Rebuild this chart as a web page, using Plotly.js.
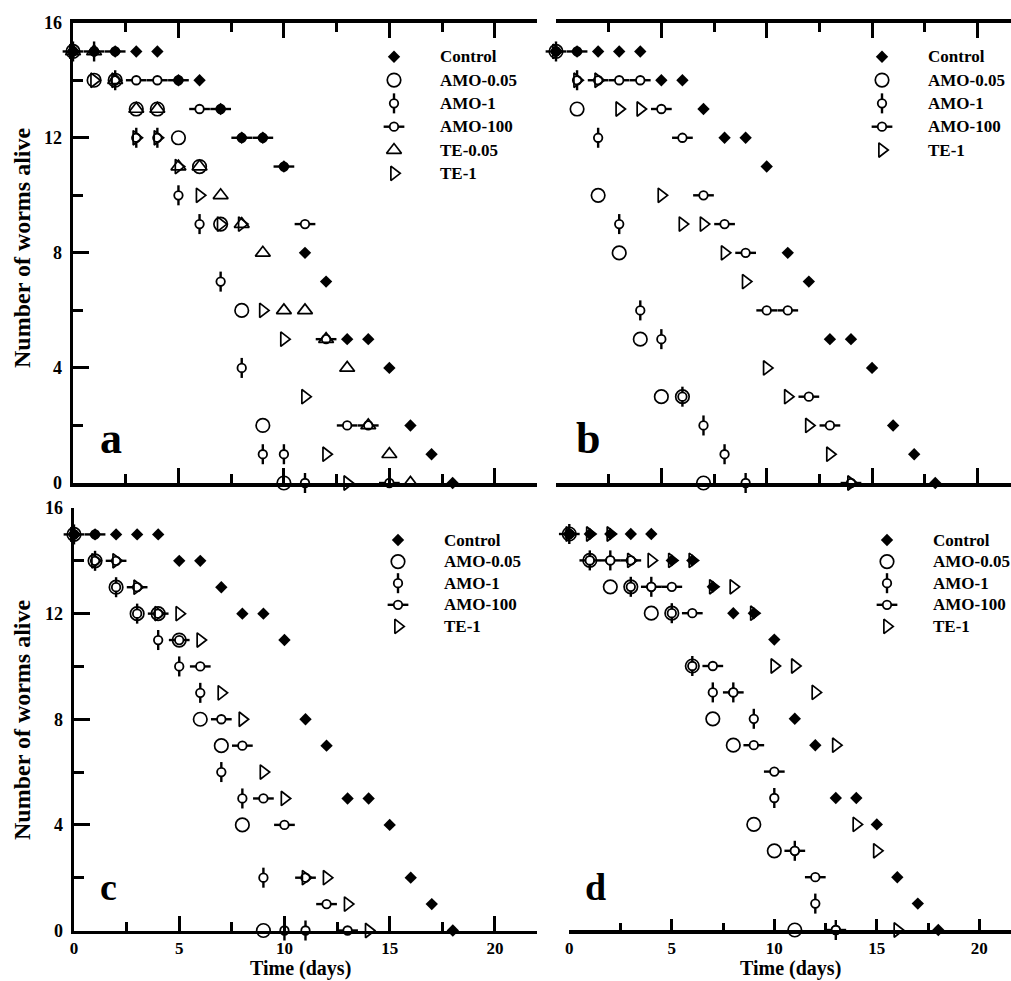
<!DOCTYPE html>
<html>
<head>
<meta charset="utf-8">
<script src="https://cdn.plot.ly/plotly-3.0.1.min.js"></script>
<style>html,body{margin:0;padding:0;background:#fff}#chart{width:1011px;height:981px}</style>
</head>
<body>
<div id="chart"></div>
<script>
// ---------------- data (worms alive per day) ----------------
const days = [0,1,2,3,4,5,6,7,8,9,10,11,12,13,14,15,16,17,18];
const controlAlive = [15,15,15,15,15,14,14,13,12,12,11,8,7,5,5,4,2,1,0];

const namesA   = ['Control','AMO-0.05','AMO-1','AMO-100','TE-0.05','TE-1'];
const namesBCD = ['Control','AMO-0.05','AMO-1','AMO-100','TE-1'];

// panel a
const aAmo005 = [15,14,14,13,13,12,11,9,6,2,0];
const aAmo1   = [15,15,14,12,12,10,9,7,4,1,1,0];
const aAmo100 = [15,15,15,14,14,14,13,13,12,12,11,9,5,2,2,0];
const aTe005  = [15,15,14,13,13,11,11,10,9,8,6,6,5,4,2,1,0];
const aTe1    = [15,14,14,12,12,11,10,9,9,6,5,3,1,0];
// panel b
const bAmo005 = [15,13,10,8,5,3,3,0];
const bAmo1   = [15,14,12,9,6,5,3,2,1,0];
const bAmo100 = [15,15,14,14,14,13,12,10,9,8,6,6,3,2,0];
const bTe1    = [15,14,14,13,13,10,9,9,8,7,4,3,2,1,0];
// panel c
const cAmo005 = [15,14,13,12,12,11,8,7,4,0];
const cAmo1   = [15,14,13,12,11,10,9,6,5,2,0,0];
const cAmo100 = [15,15,14,13,12,11,10,8,7,5,4,2,1,0];
const cTe1    = [15,14,14,13,12,12,11,9,8,6,5,2,2,1,0];
// panel d
const dAmo005 = [15,14,13,13,12,12,10,8,7,4,3,0];
const dAmo1   = [15,14,14,13,13,12,10,9,9,8,5,3,1,0];
const dAmo100 = [15,14,14,14,13,13,12,10,9,7,6,3,2,0];
const dTe1    = [15,15,15,14,14,14,14,13,13,12,10,10,9,7,4,3,0];

const panelLetters = ['a','b','c','d'];
const xTitle = 'Time (days)';
const yTitle = 'Number of worms alive';

// ---------------- styles ----------------
const W = 1011, H = 981;
const FONT = 'Liberation Serif, Times New Roman, serif';
const BLK = '#000';

const markStyles = {
  'Control':  [{symbol:'diamond', size:9.5, color:BLK, line:{width:0}}],
  'AMO-0.05': [{symbol:'circle-open', size:13.5, color:BLK, line:{color:BLK, width:1.7}}],
  'AMO-1':    [{symbol:'line-ns-open', size:14.3, color:BLK, line:{color:BLK, width:2.4}},
               {symbol:'circle', size:8.5, color:'#fff', line:{color:BLK, width:1.8}}],
  'AMO-100':  [{symbol:'line-ew-open', size:14.8, color:BLK, line:{color:BLK, width:2.4}},
               {symbol:'circle', size:8.5, color:'#fff', line:{color:BLK, width:1.8}}],
  'TE-0.05':  [{symbol:'triangle-up-open', size:13, color:BLK, line:{color:BLK, width:1.7}}],
  'TE-1':     [{symbol:'triangle-right-open', size:12.5, color:BLK, line:{color:BLK, width:1.7}}]
};
const layerOrder = [['AMO-1',0],['AMO-100',0],['AMO-1',1],['AMO-100',1],['AMO-0.05',0],['TE-0.05',0],['TE-1',0],['Control',0]];

const px2x = p => p / W;
const px2y = p => 1 - p / H;

const panels = [
  {names:namesA,   vals:[controlAlive,aAmo005,aAmo1,aAmo100,aTe005,aTe1], xa:'x',  ya:'y',  lx:'x5', ly:'y5',
   legText:438, legRow0:56.7, legStep:23.33, letX:98,  letY:438, letSize:44},
  {names:namesBCD, vals:[controlAlive,bAmo005,bAmo1,bAmo100,bTe1],        xa:'x2', ya:'y2', lx:'x6', ly:'y6',
   legText:926, legRow0:56.7, legStep:23.33, letX:574, letY:438, letSize:44},
  {names:namesBCD, vals:[controlAlive,cAmo005,cAmo1,cAmo100,cTe1],        xa:'x3', ya:'y3', lx:'x7', ly:'y7',
   legText:442, legRow0:540, legStep:21.6, letX:98,  letY:887, letSize:38},
  {names:namesBCD, vals:[controlAlive,dAmo005,dAmo1,dAmo100,dTe1],        xa:'x4', ya:'y4', lx:'x8', ly:'y8',
   legText:931, legRow0:540, legStep:21.6, letX:583, letY:887, letSize:38}
];

// ---------------- traces ----------------
const traces = [];
panels.forEach(p => {
  layerOrder.forEach(([name, k]) => {
    const idx = p.names.indexOf(name);
    if (idx < 0) return;
    const vals = p.vals[idx];
    const st = markStyles[name][k];
    traces.push({type:'scatter', mode:'markers', x:days.slice(0, vals.length), y:vals,
      xaxis:p.xa, yaxis:p.ya, marker:st, cliponaxis:false, showlegend:false, hoverinfo:'skip', name:name});
    // legend swatch (one per legend row, placed on the legend helper axes)
    traces.push({type:'scatter', mode:'markers', x:[0], y:[idx],
      xaxis:p.lx, yaxis:p.ly, marker:st, cliponaxis:false, showlegend:false, hoverinfo:'skip', name:name});
  });
});

// ---------------- layout ----------------
const tickFontY = {family:FONT, size:18, color:BLK, weight:'bold'};
const tickFontX = {family:FONT, size:17, color:BLK, weight:'bold'};
function xAx(domain, range, extra) {
  return Object.assign({domain:domain, range:range, showline:true, linecolor:BLK, linewidth:3.5,
    ticks:'inside', tickcolor:BLK, tickwidth:3, ticklen:15, tick0:0, dtick:5,
    minor:{ticks:'inside', tick0:0, dtick:2.5, ticklen:9, tickwidth:3, tickcolor:BLK, showgrid:false},
    showgrid:false, zeroline:false, showticklabels:false, tickfont:tickFontX, ticklabelstandoff:0,
    fixedrange:true}, extra);
}
function yAx(domain, extra) {
  return Object.assign({domain:domain, range:[0,16], showline:true, linecolor:BLK, linewidth:3.5,
    ticks:'inside', tickcolor:BLK, tickwidth:3, ticklen:16, tick0:0, dtick:4,
    minor:{ticks:'inside', tick0:0, dtick:2, ticklen:10, tickwidth:3, tickcolor:BLK, showgrid:false},
    showgrid:false, zeroline:false, showticklabels:true, tickfont:tickFontY, ticklabelstandoff:4,
    fixedrange:true}, extra);
}

const topDom = [px2y(483), px2y(22.7)];
const botDom = [px2y(930.5), px2y(508)];

const layout = {
  width:W, height:H, margin:{l:0,r:0,t:0,b:0},
  paper_bgcolor:'#fff', plot_bgcolor:'rgba(0,0,0,0)', showlegend:false,
  font:{family:FONT, color:BLK},
  xaxis:  xAx([px2x(73), px2x(537)], [0,22], {anchor:'y', mirror:'ticks'}),
  yaxis:  yAx(topDom, {anchor:'x'}),
  xaxis2: xAx([px2x(556), 1], [0,(W-556)/21.07], {anchor:'y2', mirror:'ticks'}),
  yaxis2: {domain:topDom, range:[0,16], visible:false, anchor:'x2', fixedrange:true},
  xaxis3: xAx([px2x(74), px2x(537)], [0,22], {anchor:'y3', showticklabels:true}),
  yaxis3: yAx(botDom, {anchor:'x3'}),
  xaxis4: xAx([px2x(569.3), 1], [0,(W-569.3)/20.5], {anchor:'y4', showticklabels:true, ticklen:11,
    minor:{ticks:'inside', tick0:0, dtick:2.5, ticklen:7, tickwidth:3, tickcolor:BLK, showgrid:false}}),
  yaxis4: {domain:[px2y(930), px2y(507.6)], range:[0,16], visible:false, anchor:'x4', fixedrange:true},
  // cropped neighbouring axis ticks at the right edge
  yaxis9:  {overlaying:'y2', anchor:'free', position:1, side:'right', range:[0,15.03], showline:false,
    ticks:'inside', ticklen:9, tickwidth:2.5, tickcolor:BLK, tick0:0, dtick:4, showticklabels:false,
    minor:{ticks:'inside', tick0:0, dtick:2, ticklen:5, tickwidth:2.5, tickcolor:BLK},
    showgrid:false, zeroline:false, fixedrange:true},
  yaxis10: {overlaying:'y4', anchor:'free', position:1, side:'right', range:[0,14.95], showline:false,
    ticks:'inside', ticklen:9, tickwidth:2.5, tickcolor:BLK, tick0:0, dtick:4, showticklabels:false,
    minor:{ticks:'inside', tick0:0, dtick:2, ticklen:5, tickwidth:2.5, tickcolor:BLK},
    showgrid:false, zeroline:false, fixedrange:true},
  annotations: []
};

// legend helper axes
panels.forEach((p, i) => {
  const n = 5 + i;
  const mx = p.legText - 44;
  const top = p.legRow0 - p.legStep / 2;
  const bot = p.legRow0 + (p.names.length - 0.5) * p.legStep;
  layout['xaxis' + n] = {domain:[px2x(mx - 15), px2x(mx + 15)], range:[-15, 15], visible:false,
    anchor:'y' + n, fixedrange:true};
  layout['yaxis' + n] = {domain:[px2y(bot), px2y(top)], range:[p.names.length - 0.5, -0.5], visible:false,
    anchor:'x' + n, fixedrange:true};
  p.names.forEach((nm, r) => {
    layout.annotations.push({xref:'x' + n, yref:'y' + n, x:0, y:r, xshift:44, xanchor:'left',
      yanchor:'middle', text:nm, showarrow:false, font:{family:FONT, size:17, color:BLK, weight:'bold'}});
  });
  layout.annotations.push({xref:'paper', yref:'paper', x:px2x(p.letX), y:px2y(p.letY), xanchor:'left',
    yanchor:'middle', text:panelLetters[i], showarrow:false,
    font:{family:FONT, size:p.letSize, color:BLK, weight:'bold'}});
});

// axis titles
[[248],[720]].forEach(([cy]) => {
  layout.annotations.push({xref:'paper', yref:'paper', x:px2x(22), y:px2y(cy), xanchor:'center',
    yanchor:'middle', textangle:-90, text:yTitle, showarrow:false,
    font:{family:FONT, size:24, color:BLK, weight:'bold'}});
});
[[300],[790]].forEach(([cx]) => {
  layout.annotations.push({xref:'paper', yref:'paper', x:px2x(cx), y:0, xanchor:'center',
    yanchor:'bottom', text:xTitle, showarrow:false, borderpad:0,
    font:{family:FONT, size:20, color:BLK, weight:'bold'}});
});

Plotly.newPlot('chart', traces, layout, {staticPlot:true, displayModeBar:false});
</script>
</body>
</html>
